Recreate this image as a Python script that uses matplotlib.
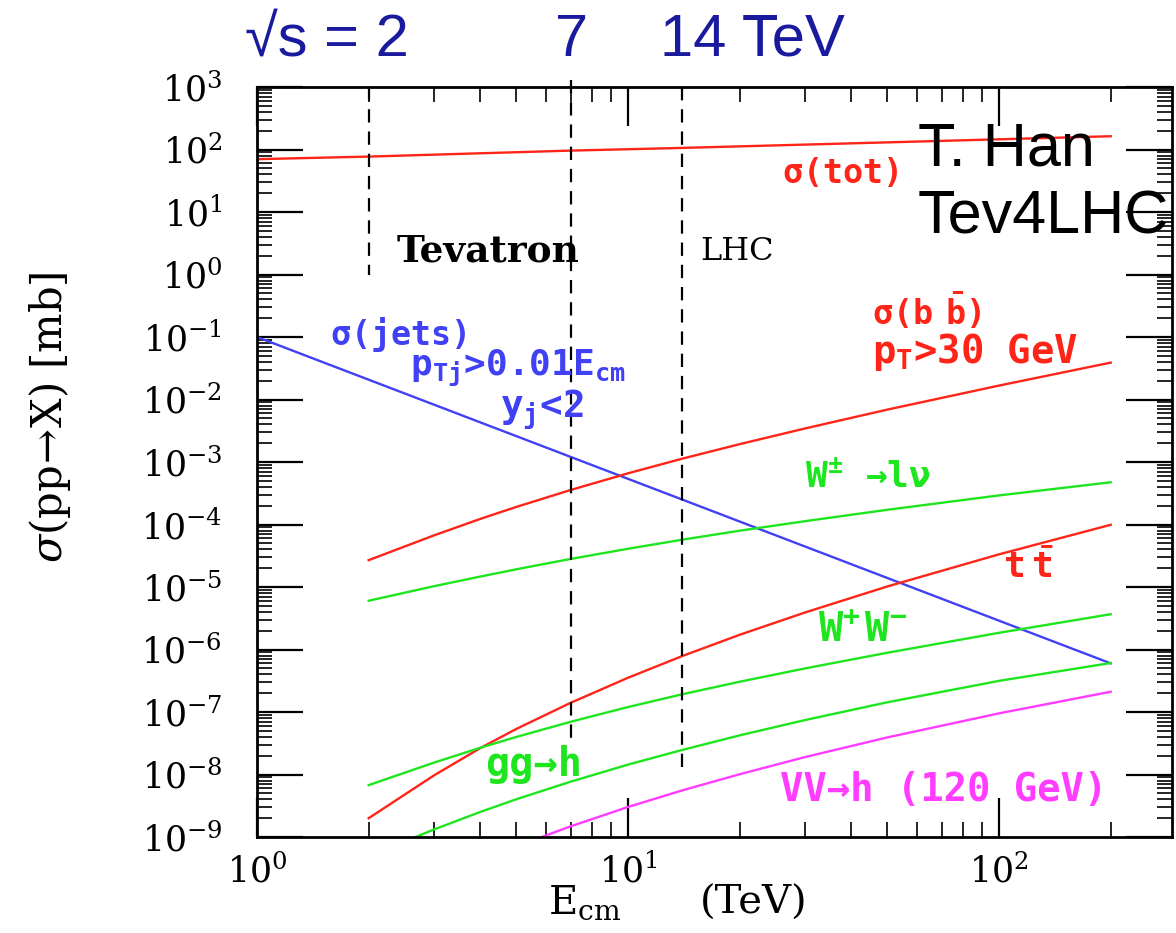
import math
import matplotlib
matplotlib.use('Agg')
import matplotlib.pyplot as plt
from matplotlib.ticker import LogLocator, FuncFormatter, NullFormatter

plt.rcParams['mathtext.fontset'] = 'dejavuserif'
# 'custom' math font is only used by the curve labels
plt.rcParams['mathtext.rm'] = 'DejaVu Sans Mono:bold'
plt.rcParams['mathtext.it'] = 'DejaVu Sans Mono:bold'
plt.rcParams['mathtext.bf'] = 'DejaVu Sans Mono:bold'

# cross sections in mb vs. E_cm in TeV
energy = [2, 3, 4, 5, 7, 10, 14, 20, 30, 50, 100, 200]
sig_bb = [2.69e-5, 6.70e-5, 1.23e-4, 1.91e-4, 3.56e-4, 6.59e-4, 1.13e-3, 1.93e-3, 3.44e-3, 6.89e-3, 0.0167, 0.0389]
sig_w = [6.03e-6, 1.03e-5, 1.47e-5, 1.92e-5, 2.81e-5, 4.09e-5, 5.71e-5, 7.96e-5, 1.13e-4, 1.72e-4, 2.92e-4, 4.74e-4]
sig_tt = [2.0e-9, 9.68e-9, 2.65e-8, 5.36e-8, 1.40e-7, 3.53e-7, 7.85e-7, 1.72e-6, 3.91e-6, 1.02e-5, 3.33e-5, 9.89e-5]
sig_ww = [6.76e-9, 1.55e-8, 2.68e-8, 3.99e-8, 6.97e-8, 1.20e-7, 1.92e-7, 3.05e-7, 4.98e-7, 8.87e-7, 1.85e-6, 3.67e-6]
sig_ggh = [4.9e-10, 1.32e-9, 2.52e-9, 4.02e-9, 7.66e-9, 1.44e-8, 2.47e-8, 4.23e-8, 7.43e-8, 1.43e-7, 3.15e-7, 6.08e-7]

energy_vvh = [3, 4, 5, 7, 10, 14, 20, 30, 50, 100, 200]
sig_vvh = [1.95e-10, 4.13e-10, 7.06e-10, 1.48e-9, 3.02e-9, 5.57e-9, 1.01e-8, 1.90e-8, 3.92e-8, 9.51e-8, 2.11e-7]

energy_tot = [1, 2, 7, 14, 50, 200]
sig_tot = [70, 77, 96, 106, 130, 163]

energy_jets = [1, 200]
sig_jets = [0.1, 6e-7]

# collider energies: (sqrt s, top, bottom of the dashed marker)
colliders = [(2, 1e3, 1.0), (7, 1.3e3, 3e-8), (14, 1e3, 1e-8)]

RED = '#ff2418'
BLUE = '#4040f5'
GREEN = '#1ee61e'
MAGENTA = '#ff3cff'
NAVY = '#1a1a9e'

W, H = 1176, 933
fig = plt.figure(figsize=(W / 100, H / 100), dpi=100)
ax = fig.add_axes([257 / W, 96 / H, 915 / W, 750 / H])
ax.set_xscale('log')
ax.set_yscale('log')
ax.set_xlim(1, 10 ** (915 / 371))
ax.set_ylim(1e-9, 1e3)

lw = 1.7
ax.plot(energy_tot, sig_tot, color=RED, lw=lw)
ax.plot(energy_jets, sig_jets, color=BLUE, lw=lw)
ax.plot(energy, sig_bb, color=RED, lw=lw)
ax.plot(energy, sig_w, color=GREEN, lw=lw)
ax.plot(energy, sig_tt, color=RED, lw=lw)
ax.plot(energy, sig_ww, color=GREEN, lw=lw)
ax.plot(energy, sig_ggh, color=GREEN, lw=lw)
ax.plot(energy_vvh, sig_vvh, color=MAGENTA, lw=lw)

for e, top, bot in colliders:
    ax.plot([e, e], [top, bot], color='black', lw=1.6, ls=(0, (6, 4)), clip_on=False)

# axes, ticks
for sp in ax.spines.values():
    sp.set_linewidth(2)
ax.xaxis.set_major_locator(LogLocator(base=10, numticks=20))
ax.yaxis.set_major_locator(LogLocator(base=10, numticks=20))
ax.xaxis.set_minor_locator(LogLocator(base=10, subs=range(2, 10), numticks=50))
ax.yaxis.set_minor_locator(LogLocator(base=10, subs=range(2, 10), numticks=200))
pow10 = FuncFormatter(lambda v, pos: r'$10^{%d}$' % round(math.log10(v)))
ax.xaxis.set_major_formatter(pow10)
ax.yaxis.set_major_formatter(pow10)
ax.xaxis.set_minor_formatter(NullFormatter())
ax.yaxis.set_minor_formatter(NullFormatter())
ax.tick_params(which='both', direction='in', top=True, right=True, labelsize=25)
ax.tick_params(which='major', width=1.6)
ax.tick_params(axis='x', which='major', length=28, pad=12)
ax.tick_params(axis='y', which='major', length=33, pad=25)
ax.tick_params(which='minor', length=11, width=1.2)
for lbl in ax.get_xticklabels() + ax.get_yticklabels():
    lbl.set_family('DejaVu Serif')

fig.text(50 / W, 1 - 417 / H, r'$\sigma(\mathrm{pp}\!\rightarrow\!\mathrm{X})$ [mb]',
         rotation=90, ha='center', va='center', fontsize=30, family='DejaVu Serif')
fig.text(548 / W, 1 - 903 / H, r'$\mathrm{E_{cm}}$',
         ha='left', va='center', fontsize=29, family='DejaVu Serif')
fig.text(700 / W, 1 - 903 / H, '(TeV)',
         ha='left', va='center', fontsize=29, family='DejaVu Serif')

# curve labels
mono = dict(family=['DejaVu Sans Mono', 'DejaVu Sans'], weight='bold',
            math_fontfamily='custom', ha='left', va='center')
ax.text(26, 42, r'$\sigma$(tot)', color=RED, fontsize=24, **mono)
ax.text(1.57, 0.11, r'$\sigma$(jets)', color=BLUE, fontsize=24, **mono)
ax.text(2.58, 0.031, r'$\mathrm{p_{Tj}}$>0.01$\mathrm{E_{cm}}$', color=BLUE, fontsize=26, **mono)
ax.text(4.52, 0.0068, r'$\mathrm{y_j}$<2', color=BLUE, fontsize=27, **mono)
ax.text(45.5, 0.256, r'$\sigma(\mathrm{b\ \ \bar{b}})$', color=RED, fontsize=24, **mono)
ax.text(45.5, 0.0575, r'$\mathrm{p_T}$>30 GeV', color=RED, fontsize=28, **mono)
ax.text(30, 5.75e-4, r'$\mathrm{W^{\pm}}$ →l$\nu$', color=GREEN, fontsize=26, **mono)
ax.text(102.5, 2.1e-5, r'$\mathrm{t\ \bar{t}}$', color=RED, fontsize=26, **mono)
ax.text(32.5, 1.98e-6, r'$\mathrm{W^{+}\,W^{-}}$', color=GREEN, fontsize=29, **mono)
ax.text(4.12, 1.42e-8, 'gg→h', color=GREEN, fontsize=29, **mono)
ax.text(25.7, 5.75e-9, 'VV→h (120 GeV)', color=MAGENTA, fontsize=28, **mono)

ax.text(2.38, 2.38, 'Tevatron', fontsize=27, weight='bold', family='DejaVu Serif', ha='left', va='center')
ax.text(15.7, 2.34, 'LHC', fontsize=23, family='DejaVu Serif', ha='left', va='center')

sans = ['Liberation Sans', 'DejaVu Sans']
fig.text(245 / W, 1 - 40 / H, '√s = 2', color=NAVY, fontsize=43, family=sans, ha='left', va='center')
fig.text(555 / W, 1 - 40 / H, '7', color=NAVY, fontsize=43, family=sans, ha='left', va='center')
fig.text(660 / W, 1 - 40 / H, '14 TeV', color=NAVY, fontsize=43, family=sans, ha='left', va='center')
fig.text(918 / W, 1 - 150 / H, 'T. Han', color='black', fontsize=44, family=sans, ha='left', va='center')
fig.text(918 / W, 1 - 218 / H, 'Tev4LHC', color='black', fontsize=44, family=sans, ha='left', va='center')

fig.savefig('out.png', dpi=100)
